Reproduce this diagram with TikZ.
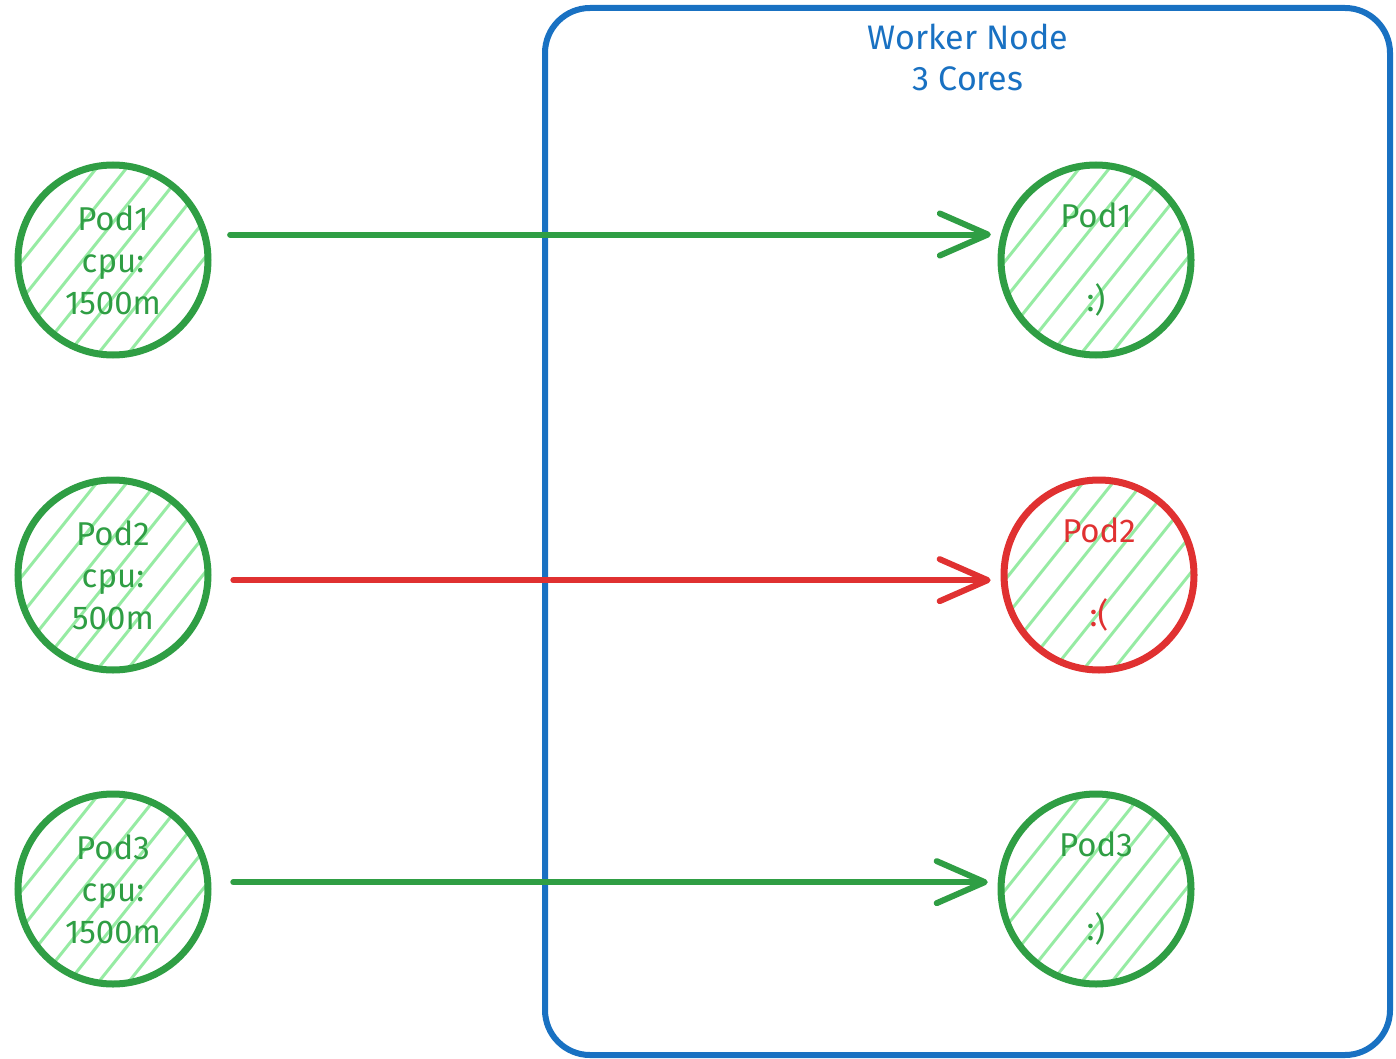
\documentclass[tikz,border=0pt]{standalone}
\usepackage{fontspec}
\setmainfont{Fira Sans}
\usetikzlibrary{arrows.meta}
\definecolor{podgreen}{HTML}{2F9E44}
\definecolor{podred}{HTML}{E03131}
\definecolor{nodeblue}{HTML}{1971C2}
\definecolor{hatchgreen}{HTML}{96EBA3}

\tikzset{
  pod/.style={circle, draw=#1, text=#1, line width=7pt, minimum size=190pt,
    inner sep=0pt, align=center, font=\fontsize{33}{42}\selectfont,
    path picture={
      \foreach \k in {-12,...,12}
        \draw[hatchgreen, line width=3pt]
          ([shift={(\k*30pt-120pt,-150pt)}]path picture bounding box.center)
          -- ++(240pt,300pt);
    }},
  conn/.style={draw=#1, line width=6pt, line cap=round,
    -{Straight Barb[length=48pt,width=42pt,line cap=round,line join=round]},
    shorten <=22pt, shorten >=10pt},
  worker/.style={draw=nodeblue, line width=6pt, rounded corners=45pt,
    minimum width=845pt, minimum height=1047pt, inner sep=0pt},
  title/.style={text=nodeblue, align=center, font=\fontsize{34}{41}\selectfont}
}

\begin{document}
\begin{tikzpicture}[x=1pt,y=-1pt]
  \useasboundingbox (0,0) rectangle (1396,1059);

  % worker node container
  \node[worker] (wn) at (967.5,531.5) {};
  \node[title] (wntitle) at (968,57) {Worker Node\\3 Cores};

  % pods waiting to be scheduled
  \node[pod=podgreen] (lp1) at (113,260) {Pod1\\cpu:\\1500m};
  \node[pod=podgreen] (lp2) at (113,575) {Pod2\\cpu:\\500m};
  \node[pod=podgreen] (lp3) at (113,889) {Pod3\\cpu:\\1500m};

  % pods placed on the worker node
  \node[pod=podgreen] (rp1) at (1096,260) {Pod1\\ \\:)};
  \node[pod=podred]   (rp2) at (1099,575) {Pod2\\ \\:(};
  \node[pod=podgreen] (rp3) at (1096,889) {Pod3\\ \\:)};

  % scheduling arrows
  \draw[conn=podgreen] (lp1.15) -- (rp1.165);
  \draw[conn=podred]   (lp2.-3) -- (rp2.183);
  \draw[conn=podgreen] (lp3.4)  -- (rp3.176);
\end{tikzpicture}
\end{document}
